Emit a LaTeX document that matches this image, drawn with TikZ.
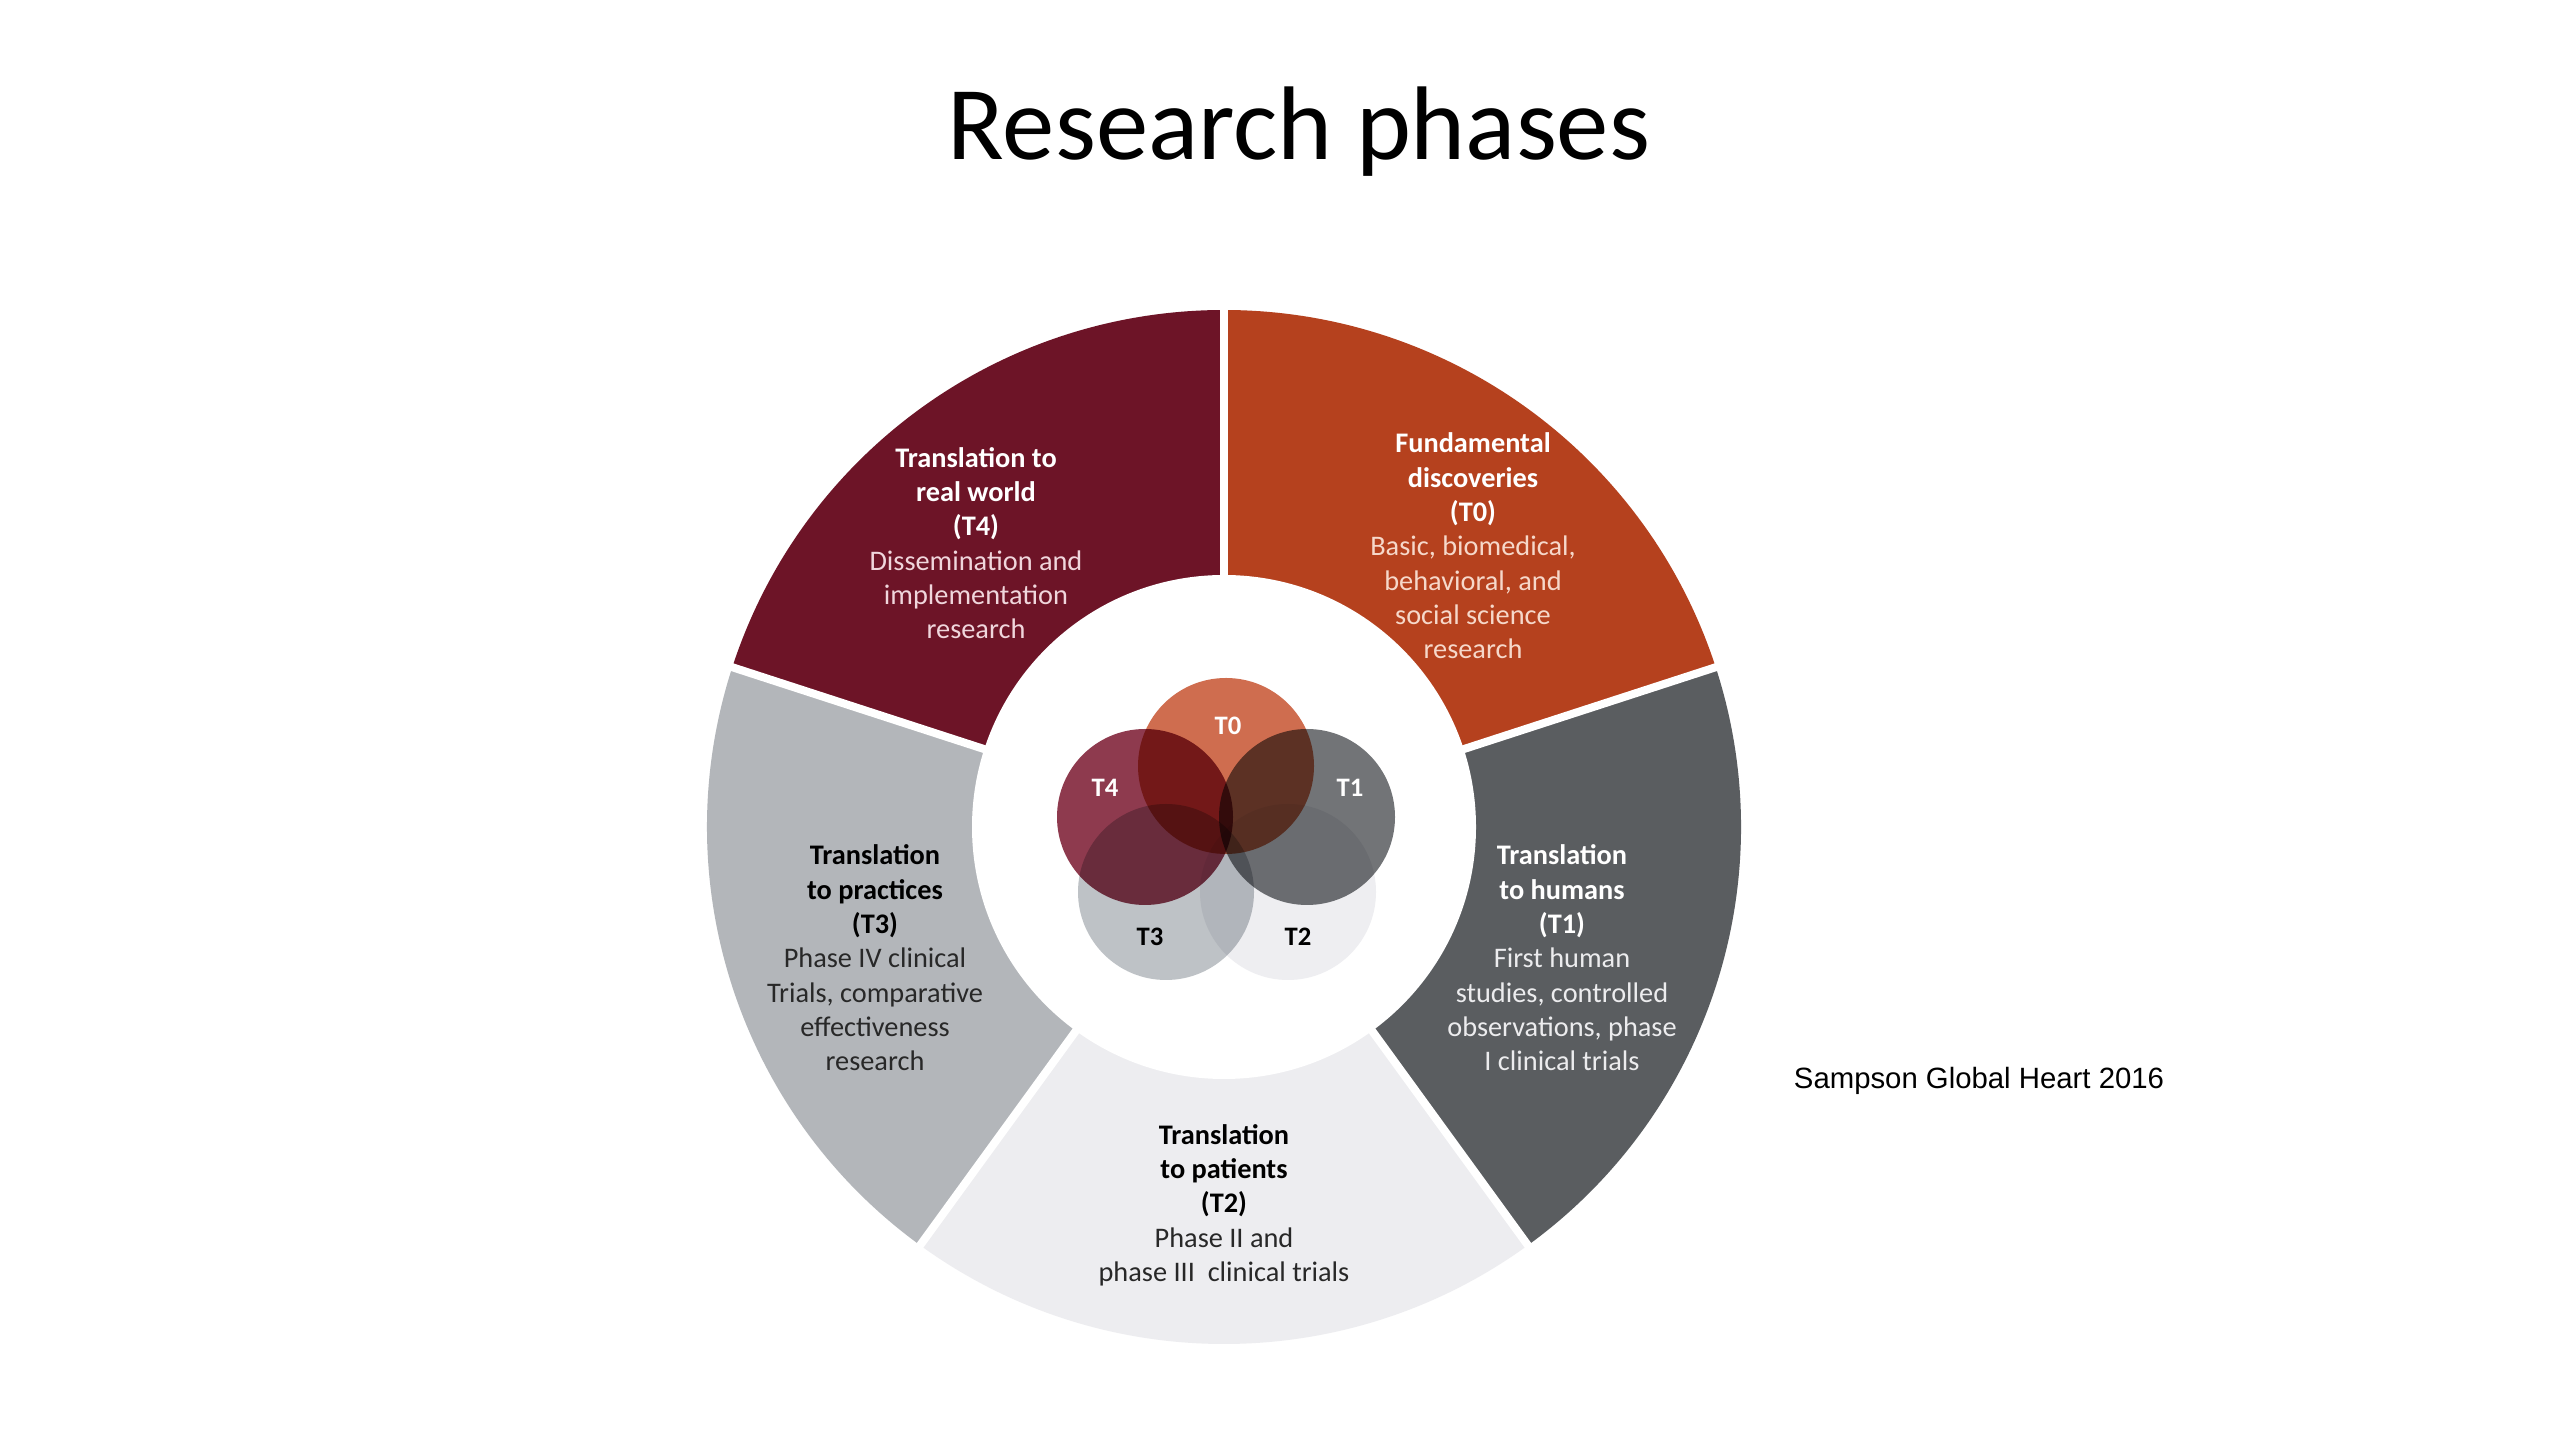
\documentclass[tikz,border=0pt]{standalone}
\usepackage{fontspec}
\setmainfont{Carlito}
\newfontfamily\arialfont{Liberation Sans}
\definecolor{secA}{RGB}{181,65,30}
\definecolor{secE}{RGB}{109,20,39}
\definecolor{secB}{RGB}{90,93,96}
\definecolor{secC}{RGB}{237,237,240}
\definecolor{secD}{RGB}{179,182,186}
\definecolor{bodyA}{RGB}{246,216,202}
\definecolor{bodyE}{RGB}{240,214,220}
\definecolor{bodyB}{RGB}{236,236,238}
\definecolor{darktext}{RGB}{40,40,40}
\definecolor{vA}{RGB}{207,109,79}
\definecolor{vE}{RGB}{142,58,78}
\definecolor{vB}{RGB}{114,116,119}
\definecolor{vD}{RGB}{190,194,198}
\definecolor{vC}{RGB}{238,238,241}
\tikzset{
  ringtext/.style={align=center, font=\fontsize{8.5}{10.3}\selectfont},
  venncirc/.style={blend mode=multiply},
  vennlabel/.style={font=\bfseries\fontsize{8}{9}\selectfont},
  sepline/.style={white, line width=2.4pt}
}
\begin{document}
\begin{tikzpicture}[x=0.3pt,y=0.3pt]
\useasboundingbox[fill=white] (0,0) rectangle (2560,1440);
% title
\node[anchor=base, font=\fontsize{31.4}{36}\selectfont, text=black] (title) at (1299,1280) {Research phases};
% ring
\begin{scope}[shift={(1224,613)}]
  \coordinate (c) at (0,0);
  \fill[secA] (c) -- (18:517) arc[start angle=18, end angle=90, radius=517] -- cycle;
  \fill[secE] (c) -- (90:517) arc[start angle=90, end angle=162, radius=517] -- cycle;
  \fill[secD] (c) -- (162:517) arc[start angle=162, end angle=234, radius=517] -- cycle;
  \fill[secC] (c) -- (234:517) arc[start angle=234, end angle=306, radius=517] -- cycle;
  \fill[secB] (c) -- (306:517) arc[start angle=306, end angle=378, radius=517] -- cycle;
  \foreach \a in {18,90,162,234,306} {
    \draw[sepline] (c) -- (\a:530);
  }
  \fill[white] (c) circle[radius=252];
\end{scope}
% venn
\begin{scope}[transparency group]
  \fill[vC, venncirc] (1288,548) circle[radius=88];
  \fill[vD, venncirc] (1166,548) circle[radius=88];
  \fill[vB, venncirc] (1307,623) circle[radius=88];
  \fill[vE, venncirc] (1145,623) circle[radius=88];
  \fill[vA, venncirc] (1226,674) circle[radius=88];
\end{scope}
\node[vennlabel, text=white] (l0) at (1228,714) {T0};
\node[vennlabel, text=white] (l4) at (1105,652) {T4};
\node[vennlabel, text=white] (l1) at (1350,652) {T1};
\node[vennlabel, text=black] (l3) at (1150,503) {T3};
\node[vennlabel, text=black] (l2) at (1298,503) {T2};
% ring texts
\node[ringtext, text=white] (t4) at (976,897) {\textbf{Translation to}\\\textbf{real world}\\\textbf{(T4)}\\\textcolor{bodyE}{Dissemination and}\\\textcolor{bodyE}{implementation}\\\textcolor{bodyE}{research}};
\node[ringtext, text=white] (t0) at (1473,894) {\textbf{Fundamental}\\\textbf{discoveries}\\\textbf{(T0)}\\\textcolor{bodyA}{Basic, biomedical,}\\\textcolor{bodyA}{behavioral, and}\\\textcolor{bodyA}{social science}\\\textcolor{bodyA}{research}};
\node[ringtext, text=white] (t1) at (1562,482) {\textbf{Translation}\\\textbf{to humans}\\\textbf{(T1)}\\\textcolor{bodyB}{First human}\\\textcolor{bodyB}{studies, controlled}\\\textcolor{bodyB}{observations, phase}\\\textcolor{bodyB}{I clinical trials}};
\node[ringtext, text=black] (t3) at (875,482) {\textbf{Translation}\\\textbf{to practices}\\\textbf{(T3)}\\\textcolor{darktext}{Phase IV clinical}\\\textcolor{darktext}{Trials, comparative}\\\textcolor{darktext}{effectiveness}\\\textcolor{darktext}{research}};
\node[ringtext, text=black] (t2) at (1224,235) {\textbf{Translation}\\\textbf{to patients}\\\textbf{(T2)}\\\textcolor{darktext}{Phase II and}\\\textcolor{darktext}{phase III\ \ clinical trials}};
% citation
\node[font=\arialfont\fontsize{8.8}{10}\selectfont, text=black] (cite) at (1979,359) {Sampson Global Heart 2016};
\end{tikzpicture}
\end{document}
